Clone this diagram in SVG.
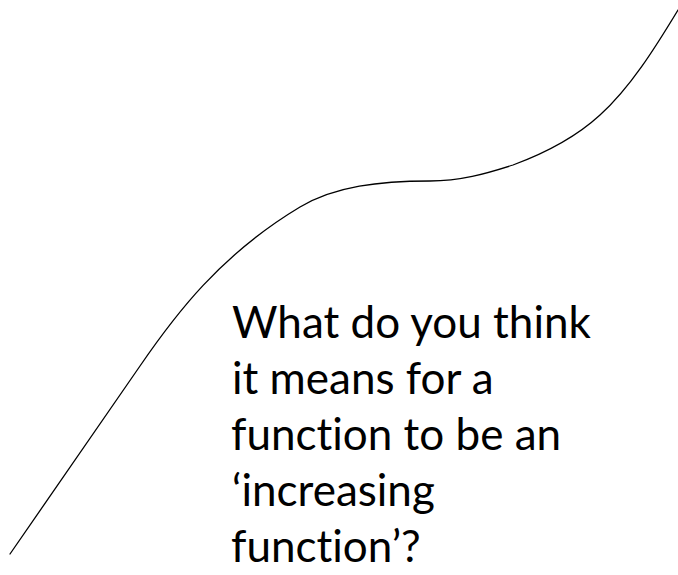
<svg xmlns="http://www.w3.org/2000/svg" width="678" height="575" viewBox="0 0 678 575">
<style>
.curve{fill:none;stroke:#000;stroke-width:1.3;stroke-linecap:round}
.q{font-family:Lato,"Open Sans","Liberation Sans",sans-serif;font-size:44px;fill:#000;font-variant-ligatures:none;font-feature-settings:"liga" 0,"clig" 0}
</style>
<rect width="678" height="575" fill="#fff"/>
<g id="connectors">
<path id="curve" class="curve" d="M10,554 L140,366 C175,315 220,255 300,207 C335,186 380,181 430,181 C460,181 485,174 513,165 C540,155 575,138 600,115 C630,88 655,48 678,10"/>
</g>
<g id="question">
<text class="q" x="232" y="338">What do you think</text>
<text class="q" x="232" y="394">it means for a</text>
<text class="q" x="231" y="450">function to be an</text>
<text class="q" x="232" y="506">‘increasing</text>
<text class="q" x="231" y="562">function’?</text>
</g>
</svg>
